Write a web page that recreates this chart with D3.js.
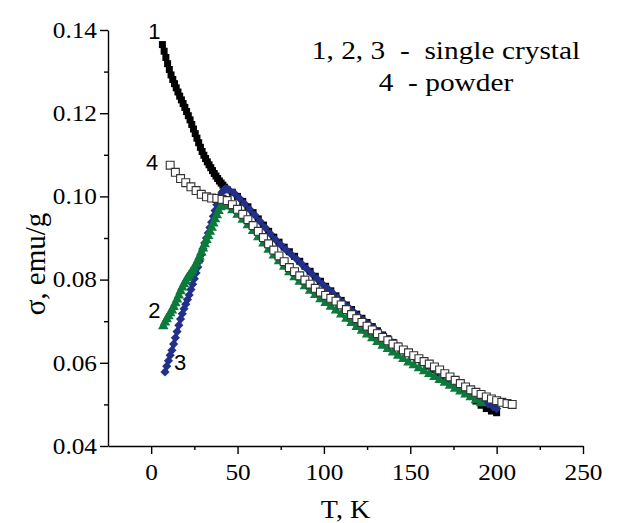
<!DOCTYPE html>
<html>
<head>
<meta charset="utf-8">
<script src="https://cdn.jsdelivr.net/npm/d3@7"></script>
<style>
  body { margin: 0; background: #fff; }
  text { white-space: pre; }
</style>
</head>
<body>
<div id="chart"></div>
<script>
// sample 1 (black squares), [T, sigma]
s1 = [[6.5,0.1365],[7.5,0.1349],[8.5,0.1334],[9.5,0.1319],[10.5,0.1305],[11.5,0.1292],[12.5,0.1281],[13.5,0.1271],
  [14.5,0.1261],[15.5,0.1251],[16.5,0.1241],[17.5,0.1232],[18.5,0.1223],[19.5,0.1214],[20.5,0.1204],[21.5,0.1194],
  [22.5,0.1184],[23.5,0.1173],[24.5,0.1162],[25.5,0.1151],[26.5,0.1140],[27.5,0.1129],[28.5,0.1118],[29.5,0.1108],
  [30.5,0.1099],[31.5,0.1091],[32.5,0.1083],[33.5,0.1076],[34.5,0.1069],[35.5,0.1062],[36.5,0.1055],[37.5,0.1049],
  [38.5,0.1043],[39.5,0.1037],[40.5,0.1032],[41.5,0.1027],[42.5,0.1022],[44,0.1016],[47,0.1010],[50,0.1000],
  [53,0.0988],[56,0.0975],[59,0.0961],[62,0.0946],[65,0.0931],[68,0.0916],[71,0.0902],[74,0.0890],[77,0.0878],
  [80,0.0867],[83,0.0856],[86,0.0844],[89,0.0832],[92,0.0820],[95,0.0808],[98,0.0796],[101,0.0784],[104,0.0773],
  [107,0.0761],[110,0.0750],[113,0.0739],[116,0.0728],[119,0.0717],[122,0.0707],[125,0.0697],[128,0.0687],
  [131,0.0677],[134,0.0667],[137,0.0658],[140,0.0649],[143,0.0640],[146,0.0632],[149,0.0624],[152,0.0616],
  [155,0.0608],[158,0.0600],[161,0.0592],[164,0.0584],[167,0.0575],[170,0.0566],[173,0.0557],[176,0.0548],
  [179,0.0539],[182,0.0529],[185,0.0519],[188,0.0508],[191,0.0498],[194,0.0490],[197,0.0484],[200,0.0480]]

// sample 2 (green triangles)
s2 = [[7,0.0688],[8,0.0697],[9,0.0705],[10,0.0712],[11,0.0719],[12,0.0726],[13,0.0734],[14,0.0743],[15,0.0752],
  [16,0.0762],[17,0.0772],[18,0.0781],[19,0.0789],[20,0.0797],[21,0.0804],[22,0.0810],[23,0.0816],[24,0.0822],
  [25,0.0829],[26,0.0837],[27,0.0846],[28,0.0855],[29,0.0865],[30,0.0875],[31,0.0885],[32,0.0895],[33,0.0905],
  [34,0.0915],[35,0.0925],[36,0.0935],[37,0.0945],[38,0.0955],[39,0.0965],[40,0.0974],[41,0.0979],[42,0.0980],
  [44,0.0976],[47,0.0967],[50,0.0956],[53,0.0944],[56,0.0931],[59,0.0917],[62,0.0902],[65,0.0887],[68,0.0872],
  [71,0.0858],[74,0.0844],[77,0.0831],[80,0.0818],[83,0.0806],[86,0.0795],[89,0.0784],[92,0.0773],[95,0.0763],
  [98,0.0753],[101,0.0744],[104,0.0735],[107,0.0726],[110,0.0716],[113,0.0706],[116,0.0696],[119,0.0686],
  [122,0.0677],[125,0.0668],[128,0.0659],[131,0.0650],[134,0.0641],[137,0.0633],[140,0.0625],[143,0.0617],
  [146,0.0609],[149,0.0601],[152,0.0594],[155,0.0587],[158,0.0580],[161,0.0573],[164,0.0566],[167,0.0559],
  [170,0.0552],[173,0.0545],[176,0.0538],[179,0.0531],[182,0.0524],[185,0.0517],[188,0.0510],[191,0.0503]]

// sample 3 (blue diamonds)
s3 = [[8,0.0578],[9,0.0592],[10,0.0605],[11,0.0618],[12,0.0630],[13,0.0645],[14,0.0660],[15,0.0675],[16,0.0690],
  [17,0.0705],[18,0.0718],[19,0.0730],[20,0.0741],[21,0.0752],[22,0.0763],[23,0.0776],[24,0.0789],[25,0.0802],
  [26,0.0816],[27,0.0830],[28,0.0845],[29,0.0860],[30,0.0874],[31,0.0888],[32,0.0900],[33,0.0912],[34,0.0925],
  [35,0.0938],[36,0.0952],[37,0.0966],[38,0.0980],[39,0.0992],[40,0.1002],[41,0.1010],[42,0.1015],[43,0.1018],
  [44,0.1018],[45,0.1016],[48,0.1008],[51,0.0996],[54,0.0983],[57,0.0969],[60,0.0955],[63,0.0940],[66,0.0925],
  [69,0.0910],[72,0.0896],[75,0.0884],[78,0.0872],[81,0.0861],[84,0.0850],[87,0.0838],[90,0.0826],[93,0.0814],
  [96,0.0802],[99,0.0790],[102,0.0779],[105,0.0768],[108,0.0756],[111,0.0745],[114,0.0734],[117,0.0723],
  [120,0.0712],[123,0.0702],[126,0.0692],[129,0.0682],[132,0.0672],[135,0.0663],[138,0.0654],[141,0.0645],
  [144,0.0637],[147,0.0629],[150,0.0621],[153,0.0613],[156,0.0605],[159,0.0597],[162,0.0589],[165,0.0581],
  [168,0.0573],[171,0.0565],[174,0.0557],[177,0.0549],[180,0.0541],[183,0.0533],[186,0.0525],[189,0.0517],
  [192,0.0509],[195,0.0501],[198,0.0494],[200,0.0490]]

// sample 4, powder (open squares)
s4 = [[11,0.1075],[14,0.1058],[17,0.1043],[20,0.1033],[23,0.1023],[26,0.1014],[29,0.1005],[32,0.0999],[35,0.0996],
  [38,0.0995],[41,0.0993],[44,0.0990],[47,0.0980],[50,0.0969],[53,0.0957],[56,0.0944],[59,0.0930],[62,0.0916],
  [65,0.0901],[68,0.0886],[71,0.0871],[74,0.0857],[77,0.0843],[80,0.0829],[83,0.0819],[86,0.0809],[89,0.0799],
  [92,0.0789],[95,0.0779],[98,0.0770],[101,0.0762],[104,0.0755],[107,0.0748],[110,0.0739],[113,0.0728],
  [116,0.0716],[119,0.0706],[122,0.0697],[125,0.0688],[128,0.0679],[131,0.0670],[134,0.0661],[137,0.0653],
  [140,0.0645],[143,0.0638],[146,0.0631],[149,0.0624],[152,0.0617],[155,0.0610],[158,0.0603],[161,0.0597],
  [164,0.0590],[167,0.0583],[170,0.0574],[173,0.0566],[176,0.0558],[179,0.0550],[182,0.0542],[185,0.0535],
  [188,0.0529],[191,0.0524],[194,0.0518],[197,0.0513],[200,0.0509],[203,0.0505],[206,0.0502],[209,0.0500]]

xTicks = [0, 50, 100, 150, 200, 250]
xMinor = [25, 75, 125, 175, 225]
yTicks = [0.04, 0.06, 0.08, 0.10, 0.12, 0.14]
yMinor = [0.05, 0.07, 0.09, 0.11, 0.13]

// curve numbers, placed in data coordinates
curveLabels = [["1", 1.8, 0.1378], ["4", 0.6, 0.1063], ["2", 1.8, 0.0708], ["3", 16.8, 0.0583]]
legendLines = ["1, 2, 3  -  single crystal", "4  - powder"]

canvas = ({width: 641, height: 523})
margin = ({top: 30, right: 58, bottom: 77, left: 108})

c_black = "#000000"
c_green = "#0b7a3b"
c_blue = "#22308a"

// the original's lettering is a little wider than the font
stretch = 1.1

x = d3.scaleLinear()
    .domain([-25, 250])
    .range([margin.left, canvas.width - margin.right])

y = d3.scaleLinear()
    .domain([0.04, 0.14])
    .range([canvas.height - margin.bottom, margin.top])

var svg = d3.select("div#chart").append("svg")
    .attr("width", canvas.width)
    .attr("height", canvas.height)
    .attr("viewBox", [0, 0, canvas.width, canvas.height])

serif = "'Liberation Serif', 'Times New Roman', serif"
sans = "'Liberation Sans', Arial, sans-serif"

// axes
gx = svg.append("g")
    .attr("transform", `translate(0,${y(0.04)})`)
    .call(d3.axisBottom(x).tickValues(xTicks).tickSize(8).tickSizeOuter(0).tickFormat(d3.format("d")))
gx.append("g").call(d3.axisBottom(x).tickValues(xMinor).tickSize(4).tickFormat(""))
    .select(".domain").remove()

gy = svg.append("g")
    .attr("transform", `translate(${x(-25)},0)`)
    .call(d3.axisLeft(y).tickValues(yTicks).tickSize(8).tickSizeOuter(0).tickFormat(d3.format(".2f")))
gy.append("g").call(d3.axisLeft(y).tickValues(yMinor).tickSize(4).tickFormat(""))
    .select(".domain").remove()

svg.selectAll(".domain, .tick line").attr("stroke", "#000").attr("stroke-width", 1.4)
gx.selectAll(".tick text")
    .attr("font-family", serif).attr("font-size", 23).attr("fill", "#000")
    .attr("dy", "1.0em")
    .attr("transform", `scale(${stretch},1)`)
gy.selectAll(".tick text")
    .attr("font-family", serif).attr("font-size", 23).attr("fill", "#000")
    .attr("x", -11 / stretch)
    .attr("transform", `scale(${stretch},1)`)

svg.append("text")
    .attr("transform", `translate(${(x.range()[0] + x.range()[1]) / 2},518) scale(1.08,1)`)
    .attr("text-anchor", "middle")
    .attr("font-family", serif).attr("font-size", 26)
    .text("T, K")

svg.append("text")
    .attr("transform", `translate(45,${(y.range()[0] + y.range()[1]) / 2 + 26}) rotate(-90)`)
    .attr("text-anchor", "middle")
    .attr("font-family", serif).attr("font-size", 29)
    .text("σ, emu/g")

// series: thin line underneath keeps the dense markers looking continuous
line = d3.line().x(d => x(d[0])).y(d => y(d[1]))

function series(data, color, symbol, size, rot) {
    svg.append("path")
        .attr("fill", "none")
        .attr("stroke", color)
        .attr("stroke-width", 3.5)
        .attr("d", line(data))
    svg.append("g").selectAll("path")
        .data(data)
        .join("path")
        .attr("transform", d => `translate(${x(d[0])},${y(d[1])}) rotate(${rot})`)
        .attr("d", d3.symbol(symbol, size))
        .attr("fill", color)
}

series(s1, c_black, d3.symbolSquare, 49, 0)
series(s3, c_blue, d3.symbolSquare, 42, 45)
series(s2, c_green, d3.symbolTriangle, 48, 0)

svg.append("g").selectAll("path")
    .data(s4)
    .join("path")
    .attr("transform", d => `translate(${x(d[0])},${y(d[1])})`)
    .attr("d", d3.symbol(d3.symbolSquare, 62))
    .attr("fill", "#fff")
    .attr("stroke", "#333")
    .attr("stroke-width", 1.1)

// curve numbers
svg.append("g").selectAll("text")
    .data(curveLabels)
    .join("text")
    .attr("x", d => x(d[1]))
    .attr("y", d => y(d[2]))
    .attr("text-anchor", "middle")
    .attr("font-family", sans).attr("font-size", 22)
    .text(d => d[0])

// legend text
svg.append("g").selectAll("text")
    .data(legendLines)
    .join("text")
    .attr("transform", (d, i) => `translate(446,${59 + i * 32}) scale(1.13,1)`)
    .attr("text-anchor", "middle")
    .attr("font-family", serif).attr("font-size", 26)
    .text(d => d)
</script>
</body>
</html>
